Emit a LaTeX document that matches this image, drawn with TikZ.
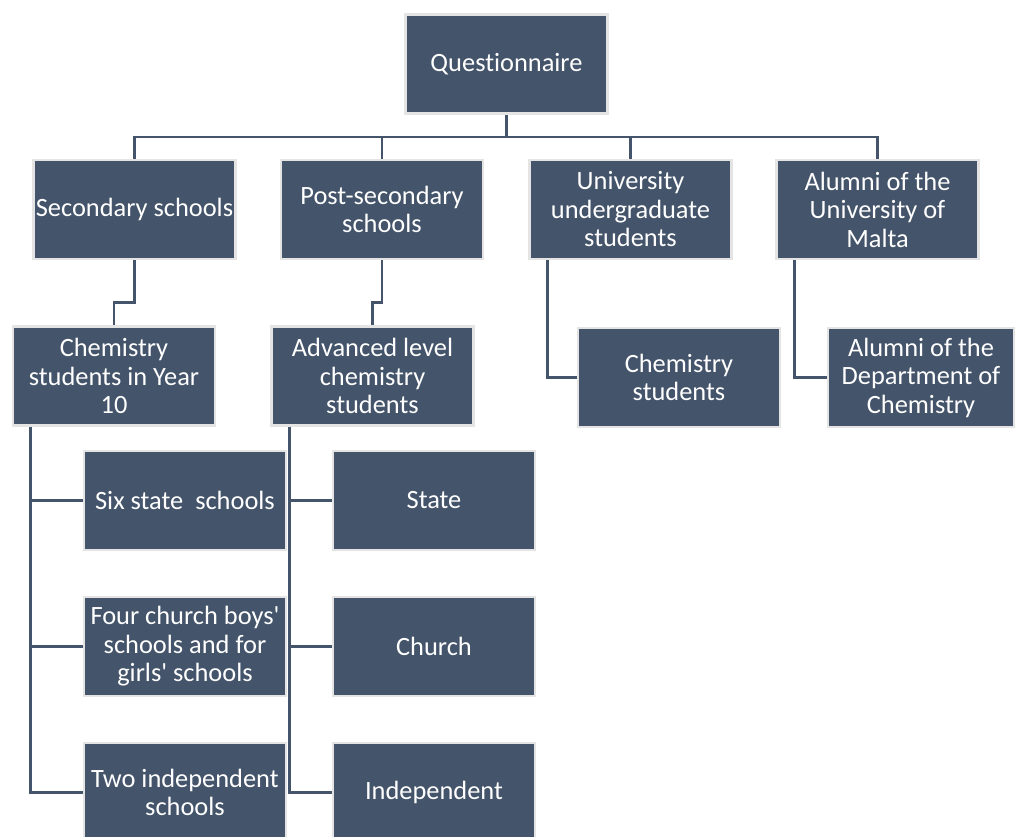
\documentclass[tikz,border=0pt]{standalone}
\usepackage{fontspec}
\setmainfont{Carlito}[Ligatures=NoCommon]
\usepackage{tikz}

\definecolor{slate}{HTML}{44546A}
\definecolor{rim}{HTML}{E4E4E4}

\begin{document}
\begin{tikzpicture}[x=1pt,y=-1pt,
  box/.style={draw=rim,line width=2.5pt,fill=slate,text=white,align=center,
    minimum width=202pt,minimum height=99pt,inner sep=2pt,
    font=\fontsize{26.4}{28.5}\selectfont},
  link/.style={draw=slate,line width=2.8pt}]
\useasboundingbox (0,0) rectangle (1019,836);
% top
\node[box] (quest) at (506.5,64) {Questionnaire};
\coordinate (bus) at (506.5,137);
% first level
\node[box] (sec) at (134.5,209.5) {Secondary schools};
\node[box] (post) at (382,209.5) {Post-secondary\\schools};
\node[box] (univ) at (630.5,209.5) {University\\undergraduate\\students};
\node[box] (alum) at (877.5,209.5) {Alumni of the\\University of\\Malta};
% second level
\node[box] (chemten) at (114,376) {Chemistry\\students in Year\\10};
\node[box] (adv) at (372.5,376) {Advanced level\\chemistry\\students};
\node[box] (chemstu) at (679,377.5) {Chemistry\\students};
\node[box,minimum width=186pt] (dept) at (921,377.5) {Alumni of the\\Department of\\Chemistry};
% third level
\node[box] (six) at (185,500.5) {Six state\ \ schools};
\node[box] (four) at (185,646.5) {Four church boys\textquotesingle\\schools and for\\girls\textquotesingle\ schools};
\node[box] (two) at (185,792.5) {Two independent\\schools};
\node[box] (state) at (434,500.5) {State};
\node[box] (church) at (434,646.5) {Church};
\node[box] (indep) at (434,792.5) {Independent};
% connectors
\draw[link] (quest.south) -- (bus);
\draw[link] (sec.north) |- (bus);
\draw[link] (post.north) |- (bus);
\draw[link] (univ.north) |- (bus);
\draw[link] (alum.north) |- (bus);
\draw[link] (sec.south) -- ++(0,42) -| (chemten.north);
\draw[link] (post.south) -- ++(0,42) -| (adv.north);
\draw[link] ([xshift=19pt]univ.south west) |- (chemstu.west);
\draw[link] ([xshift=19pt]alum.south west) |- (dept.west);
\foreach \kid in {six,four,two}
  \draw[link] ([xshift=19pt]chemten.south west) |- (\kid.west);
\foreach \kid in {state,church,indep}
  \draw[link] ([xshift=19pt]adv.south west) |- (\kid.west);
\end{tikzpicture}
\end{document}
